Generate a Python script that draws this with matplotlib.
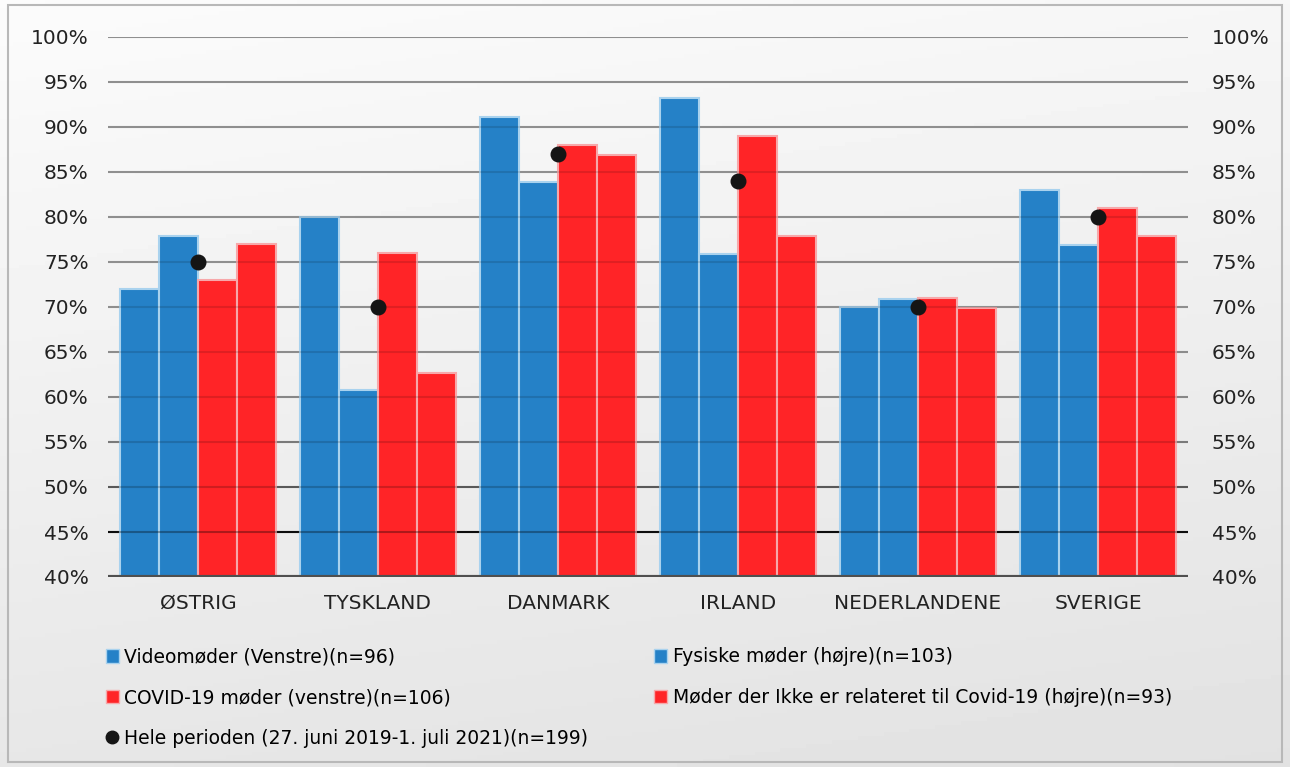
import matplotlib
matplotlib.use("Agg")
import matplotlib.pyplot as plt
import numpy as np
from matplotlib.lines import Line2D
from matplotlib.patches import Patch, Rectangle

categories = ["ØSTRIG", "TYSKLAND", "DANMARK", "IRLAND", "NEDERLANDENE", "SVERIGE"]
video = [72, 80, 91.1, 93.2, 70, 83]
fysiske = [77.9, 60.8, 83.9, 75.9, 70.9, 76.9]
covid = [73, 76, 88, 89, 71, 81]
ikke_covid = [77, 62.7, 86.9, 77.9, 69.9, 77.9]
hele = [75, 70, 87, 84, 70, 80]

labels = ["Videomøder (Venstre)(n=96)", "Fysiske møder (højre)(n=103)",
          "COVID-19 møder (venstre)(n=106)",
          "Møder der Ikke er relateret til Covid-19 (højre)(n=93)",
          "Hele perioden (27. juni 2019-1. juli 2021)(n=199)"]
yticks = [40, 45, 50, 55, 60, 65, 70, 75, 80, 85, 90, 95, 100]

BLUE = "#2581c7"
BLUE_E = "#a9d2ee"
RED = "#ff2427"
RED_E = "#f7a8aa"

fig = plt.figure(figsize=(12.9, 7.67), dpi=100)
# background gradient
bg = fig.add_axes([0, 0, 1, 1], zorder=-10)
gx = np.linspace(0, 1, 200)
gy = np.linspace(0, 1, 200)
X, Y = np.meshgrid(gx, gy)
grad = 0.985 - 0.10 * (Y * 0.8 + X * 0.2)
bg.imshow(grad, cmap="gray", vmin=0, vmax=1, extent=[0, 1, 0, 1], aspect="auto", origin="upper")
bg.add_patch(Rectangle((0.006, 0.007), 0.988, 0.986, fill=False, edgecolor="#b8b8b8", lw=1.5,
                       transform=bg.transAxes))
bg.set_xlim(0, 1); bg.set_ylim(0, 1)
bg.axis("off")

ax = fig.add_axes([108/1290, 1-577/767, 1080/1290, 540/767])
ax.patch.set_alpha(0)
x = np.arange(len(categories))
w = 0.217
series = [(video, BLUE, BLUE_E), (fysiske, BLUE, BLUE_E), (covid, RED, RED_E), (ikke_covid, RED, RED_E)]
for i, (vals, c, e) in enumerate(series):
    off = (i - 1.5) * w
    ax.bar(x + off, np.array(vals) - 40, width=w, bottom=40, color=c, edgecolor=e, linewidth=1.5, zorder=3)
ax.scatter(x, hele, s=110, color="#151515", zorder=5)

# gridlines: gray, turning dark near the bottom, faintly visible over the bars
for t in yticks[1:]:
    k = np.exp(-(t - 45) / 5.0)
    g = 0.64 - 0.56 * k
    ax.axhline(t, color=(g, g, g), lw=1.5, zorder=1)
    ax.axhline(t, color="black", alpha=0.12 + 0.2 * k, lw=1.5, zorder=3.5)

ax.set_ylim(40, 100)
ax.set_xlim(-0.5, len(categories) - 0.5)
ax.set_yticks(yticks)
ax.set_yticklabels([f"{t}%" for t in yticks])
ax.axhline(40, color="#4f4f4f", lw=3, zorder=4)
ax.set_xticks(x)
ax.set_xticklabels(categories)
for s in ax.spines.values():
    s.set_visible(False)
ax.tick_params(axis="both", length=0, labelsize=14.5, colors="#222222")
ax.tick_params(axis="y", pad=14)
ax.tick_params(axis="x", pad=12)

ax2 = ax.twinx()
ax2.set_ylim(40, 100)
ax2.set_yticks(yticks)
ax2.set_yticklabels([f"{t}%" for t in yticks])
for s in ax2.spines.values():
    s.set_visible(False)
ax2.tick_params(axis="y", length=0, labelsize=14.5, colors="#222222", pad=17)

handles = [Patch(facecolor=BLUE, edgecolor=BLUE_E), Patch(facecolor=RED, edgecolor=RED_E),
           Line2D([], [], marker="o", color="#151515", ls="none", markersize=9),
           Patch(facecolor=BLUE, edgecolor=BLUE_E), Patch(facecolor=RED, edgecolor=RED_E)]
hl = [labels[0], labels[2], labels[4], labels[1], labels[3]]
fig.legend(handles, hl, ncol=2, loc="upper left", bbox_to_anchor=(98/1290, 1-640/767),
           frameon=False, fontsize=13.5, handlelength=0.7, handleheight=0.7, handletextpad=0.3,
           columnspacing=3.5, labelspacing=1.15, borderaxespad=0)

fig.savefig("out.png", dpi=100)
